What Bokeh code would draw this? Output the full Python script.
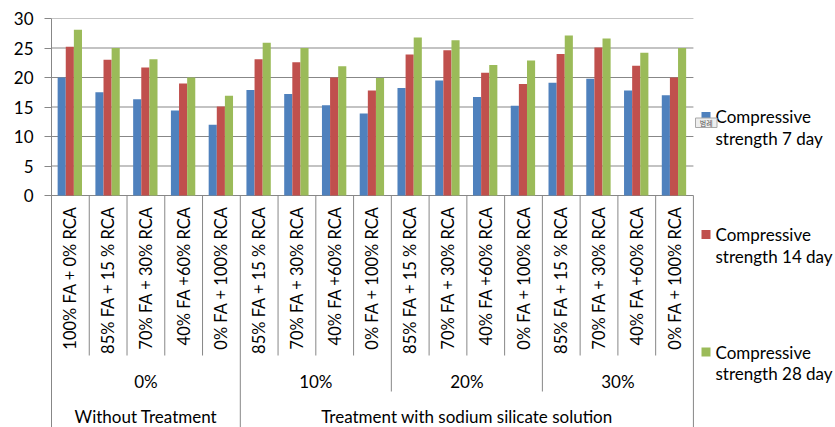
import numpy as np
from bokeh.plotting import figure
from bokeh.models import Range1d, FixedTicker, ColumnDataSource
from bokeh.core.properties import value
from bokeh.embed import file_html
from bokeh.resources import INLINE

# ---- data -------------------------------------------------------------
mixes = [
    "100% FA + 0% RCA", "85% FA + 15 % RCA", "70% FA + 30% RCA", "40% FA +60% RCA", "0% FA + 100% RCA",
    "85% FA + 15 % RCA", "70% FA + 30% RCA", "40% FA +60% RCA", "0% FA + 100% RCA",
    "85% FA + 15 % RCA", "70% FA + 30% RCA", "40% FA +60% RCA", "0% FA + 100% RCA",
    "85% FA + 15 % RCA", "70% FA + 30% RCA", "40% FA +60% RCA", "0% FA + 100% RCA",
]
silicate = ["0%"] * 5 + ["10%"] * 4 + ["20%"] * 4 + ["30%"] * 4
treatment = ["Without Treatment"] * 5 + ["Treatment with sodium silicate solution"] * 12

series_names = ["Compressive strength 7 day", "Compressive strength 14 day", "Compressive strength 28 day"]
day7 = [20.0, 17.5, 16.3, 14.4, 12.0, 17.9, 17.2, 15.3, 13.9, 18.2, 19.5, 16.7, 15.2, 19.1, 19.8, 17.8, 17.0]
day14 = [25.2, 23.0, 21.7, 19.0, 15.1, 23.1, 22.6, 20.0, 17.8, 23.9, 24.6, 20.8, 18.9, 24.0, 25.1, 22.0, 20.0]
day28 = [28.1, 25.0, 23.1, 20.0, 16.9, 25.9, 25.0, 21.9, 19.9, 26.8, 26.3, 22.1, 22.9, 27.1, 26.6, 24.2, 25.0]
y_ticks = [0, 5, 10, 15, 20, 25, 30]

colors = ["#4F81BD", "#C0504D", "#9BBB59"]
FONT = value("Lato")
GRAY = "#878787"

# ---- geometry helpers (pixel -> data) ---------------------------------
W, H = 835, 427
LEFT, TOP = 51, 18
PX_X = 37.76          # pixels per category
PX_Y = 5.9            # pixels per unit of strength
y_top = 30
y_bottom = y_top - (H - TOP) / PX_Y
x_right = (W - LEFT) / PX_X


def xd(px):
    return (px - LEFT) / PX_X


def yd(py):
    return y_top - (py - TOP) / PX_Y


def runs(labels):
    out, start = [], 0
    for i in range(1, len(labels) + 1):
        if i == len(labels) or labels[i] != labels[start]:
            out.append((labels[start], start, i))
            start = i
    return out


n = len(mixes)
idx = np.arange(n)

p = figure(width=W, height=H, output_backend="svg", toolbar_location=None,
           x_range=Range1d(0, x_right), y_range=Range1d(y_bottom, y_top),
           min_border_left=LEFT, min_border_right=0, min_border_top=TOP, min_border_bottom=0,
           x_axis_location=None)
p.outline_line_color = None
p.xgrid.visible = False
p.ygrid.visible = False
p.background_fill_color = "white"
p.border_fill_color = "white"

# y axis
ax = p.yaxis[0]
ax.ticker = FixedTicker(ticks=y_ticks)
ax.axis_line_color = GRAY
ax.major_tick_line_color = GRAY
ax.major_tick_out = 7
ax.major_tick_in = 0
ax.minor_tick_line_color = None
ax.major_label_standoff = 11
ax.major_label_text_font = "Lato"
ax.major_label_text_font_size = "17px"
ax.major_label_text_color = "black"

# horizontal gridlines across the category span
p.segment(x0=[0] * len(y_ticks), x1=[n] * len(y_ticks), y0=y_ticks, y1=y_ticks,
          line_color=GRAY, line_width=1)

# bars
bar_w = 0.215
center = 0.485
for k, (vals, c) in enumerate(zip([day7, day14, day28], colors)):
    src = ColumnDataSource(dict(x=idx + center + (k - 1) * bar_w, top=vals))
    p.vbar(x="x", top="top", bottom=0, width=bar_w, source=src,
           fill_color=c, line_color=None)

# category separators below the axis
bounds = np.arange(n + 1)
depth = []
for b in bounds:
    if b == 0 or b == n or treatment[b] != treatment[b - 1]:
        depth.append(y_bottom)
    elif silicate[b] != silicate[b - 1]:
        depth.append(yd(391))
    else:
        depth.append(yd(355))
p.segment(x0=bounds, x1=bounds, y0=[0] * len(bounds), y1=depth, line_color=GRAY, line_width=1)

# rotated mix labels
p.text(x=idx + 0.5, y=[yd(206)] * n, text=mixes, angle=np.pi / 2,
       text_align="right", text_baseline="middle",
       text_font=FONT, text_font_size="16.5px", text_color="black")

# silicate level labels
sil_runs = runs(silicate)
p.text(x=[(a + b) / 2 for _, a, b in sil_runs], y=[yd(381)] * len(sil_runs),
       text=[s for s, _, _ in sil_runs], text_align="center", text_baseline="middle",
       text_font=FONT, text_font_size="17px", text_color="black")

# treatment labels
tr_runs = runs(treatment)
p.text(x=[(a + b) / 2 for _, a, b in tr_runs], y=[yd(416)] * len(tr_runs),
       text=[s for s, _, _ in tr_runs], text_align="center", text_baseline="middle",
       text_font=FONT, text_font_size="17px", text_color="black")

# legend
leg_y = [116, 234, 351.5]
for name, c, ly in zip(series_names, colors, leg_y):
    first, rest = name.split(" ", 1)
    p.scatter(x=[xd(705.5)], y=[yd(ly)], marker="square", size=9,
              fill_color=c, line_color=None)
    p.text(x=[xd(715)] * 2, y=[yd(ly), yd(ly + 21.7)], text=[first, rest],
           text_align="left", text_baseline="middle",
           text_font=FONT, text_font_size="17px", text_color="black")

# small "legend" hover tag
p.quad(left=[xd(695)], right=[xd(716.5)], top=[yd(117.5)], bottom=[yd(127)],
       fill_color="#eeeeee", line_color="#a8a8a8", line_width=1)
p.text(x=[xd(705.7)], y=[yd(122.3)], text=["범례"], text_align="center", text_baseline="middle",
       text_font=value("Noto Sans CJK KR"), text_font_size="7px", text_color="#555555")

open("out.html", "w").write(file_html(p, INLINE))
